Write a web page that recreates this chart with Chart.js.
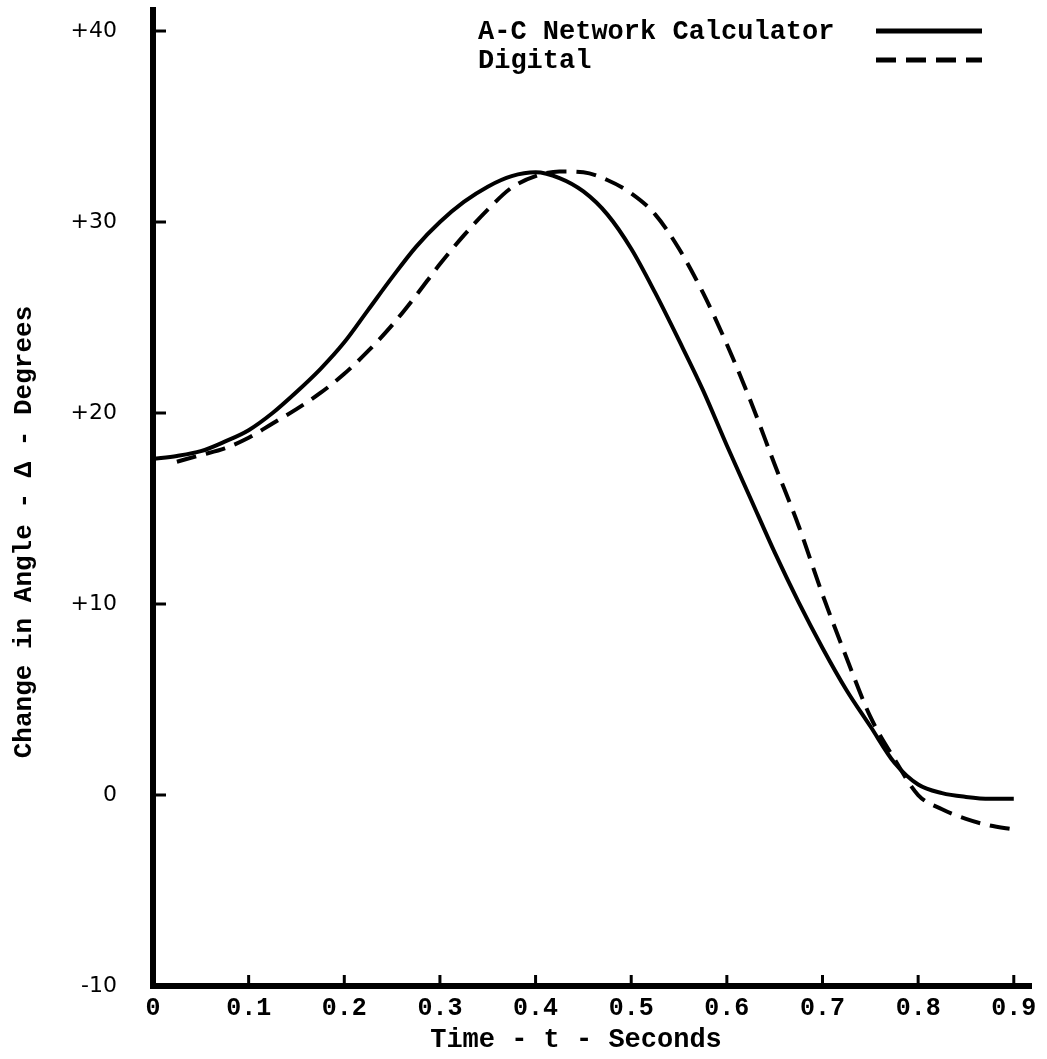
<!DOCTYPE html>
<html lang="en">
<head>
<meta charset="UTF-8">
<title>Change in Angle vs Time</title>
<script src="https://cdn.jsdelivr.net/npm/chart.js@4.4.0/dist/chart.umd.min.js"></script>
<style>
  html, body { margin: 0; padding: 0; background: #fff; }
  #wrap { width: 1047px; height: 1059px; position: relative; }
</style>
</head>
<body>
<div id="wrap"><canvas id="angleChart"></canvas></div>
<script>
// --- data (time in seconds, angle in degrees) ---
const timeValues = [0, 0.025, 0.05, 0.075, 0.1, 0.125, 0.15, 0.175, 0.2, 0.225, 0.25, 0.275,
    0.3, 0.325, 0.35, 0.375, 0.4, 0.425, 0.45, 0.475, 0.5, 0.525, 0.55, 0.575,
    0.6, 0.625, 0.65, 0.675, 0.7, 0.725, 0.75, 0.775, 0.8, 0.825, 0.85, 0.875, 0.9];

const acNetwork = [17.6, 17.75, 18.0, 18.5, 19.1, 20.0, 21.1, 22.3, 23.7, 25.4, 27.1, 28.7,
    30.0, 31.05, 31.85, 32.4, 32.6, 32.3, 31.6, 30.4, 28.6, 26.3, 23.8, 21.2,
    18.3, 15.5, 12.7, 10.1, 7.7, 5.5, 3.6, 1.7, 0.55, 0.1, -0.1, -0.2, -0.2];

const digital = [null, 17.45, 17.8, 18.15, 18.7, 19.45, 20.2, 21.05, 22.05, 23.25, 24.6, 26.15,
    27.8, 29.3, 30.65, 31.8, 32.4, 32.65, 32.6, 32.2, 31.5, 30.4, 28.6, 26.3,
    23.6, 20.6, 17.3, 14.1, 10.5, 7.2, 4.1, 1.9, 0.0, -0.75, -1.25, -1.6, -1.8];

const seriesLabels = ['A-C Network Calculator', 'Digital'];
const xTickValues = [0, 0.1, 0.2, 0.3, 0.4, 0.5, 0.6, 0.7, 0.8, 0.9];
const xTickLabels = ['0', '0.1', '0.2', '0.3', '0.4', '0.5', '0.6', '0.7', '0.8', '0.9'];
const yTickValues = [-10, 0, 10, 20, 30, 40];
const yTickLabels = ['-10', '0', '+10', '+20', '+30', '+40'];
const xTitle = 'Time - t - Seconds';
const yTitle = 'Change in Angle - Δ - Degrees';

const TYPE_FONT = "'Liberation Mono', 'DejaVu Sans Mono', monospace";

const toPoints = (values) => timeValues.map((t, i) => ({ x: t, y: values[i] }));

// short tick marks pointing into the plot, like the original drawing
const inwardTicks = {
    id: 'inwardTicks',
    afterDraw(chart) {
        const { ctx, scales: { x, y } } = chart;
        ctx.save();
        ctx.strokeStyle = '#000';
        ctx.lineWidth = 3;
        xTickValues.forEach(v => {
            if (v === 0) return;
            const px = x.getPixelForValue(v);
            ctx.beginPath();
            ctx.moveTo(px, y.bottom);
            ctx.lineTo(px, y.bottom - 11);
            ctx.stroke();
        });
        yTickValues.forEach(v => {
            if (v === -10) return;
            const py = y.getPixelForValue(v);
            ctx.beginPath();
            ctx.moveTo(x.left, py);
            ctx.lineTo(x.left + 13, py);
            ctx.stroke();
        });
        ctx.restore();
    }
};

// axis titles, placed a little off-centre as in the typed original
const axisTitles = {
    id: 'axisTitles',
    afterDraw(chart) {
        const { ctx } = chart;
        ctx.save();
        ctx.font = `bold 27px ${TYPE_FONT}`;
        ctx.fillStyle = '#000';
        ctx.textAlign = 'center';
        ctx.textBaseline = 'middle';
        ctx.fillText(xTitle, 576, 1040);
        ctx.translate(24, 532);
        ctx.rotate(-Math.PI / 2);
        ctx.font = `bold 26px ${TYPE_FONT}`;
        ctx.fillText(yTitle, 0, 0);
        ctx.restore();
    }
};

// legend: label text on the left, line sample on the right
const typedLegend = {
    id: 'typedLegend',
    afterDraw(chart) {
        const { ctx } = chart;
        const textX = 478, lineX1 = 876, lineX2 = 982;
        const rows = [31, 60];
        ctx.save();
        ctx.font = `bold 27px ${TYPE_FONT}`;
        ctx.fillStyle = '#000';
        ctx.textBaseline = 'middle';
        chart.data.datasets.forEach((ds, i) => {
            const yy = rows[i];
            ctx.fillText(ds.label, textX, yy + 1);
            ctx.beginPath();
            ctx.setLineDash(ds.borderDash || []);
            ctx.lineWidth = 5;
            ctx.strokeStyle = '#000';
            ctx.moveTo(lineX1, yy);
            ctx.lineTo(lineX2, yy);
            ctx.stroke();
        });
        ctx.restore();
    }
};

document.addEventListener('DOMContentLoaded', () => {
    const ctx = document.getElementById('angleChart').getContext('2d');
    new Chart(ctx, {
        type: 'line',
        data: {
            datasets: [{
                label: seriesLabels[0],
                data: toPoints(acNetwork),
                borderColor: '#000',
                borderWidth: 4,
                pointRadius: 0,
                cubicInterpolationMode: 'monotone',
                fill: false
            }, {
                label: seriesLabels[1],
                data: toPoints(digital),
                borderColor: '#000',
                borderWidth: 4,
                borderDash: [20, 10],
                pointRadius: 0,
                cubicInterpolationMode: 'monotone',
                fill: false
            }]
        },
        options: {
            responsive: true,
            maintainAspectRatio: false,
            animation: false,
            layout: { padding: { top: 10, right: 16, left: 0, bottom: 0 } },
            plugins: {
                legend: { display: false },
                tooltip: { enabled: false }
            },
            scales: {
                x: {
                    type: 'linear',
                    min: 0,
                    max: 0.918,
                    afterBuildTicks: (scale) => { scale.ticks = xTickValues.map(v => ({ value: v })); },
                    afterFit: (scale) => {
                        scale.height = 73;
                        scale.paddingLeft = 0;
                        scale.paddingRight = 0;
                    },
                    grid: { display: false, drawTicks: false },
                    border: { display: true, color: '#000', width: 6 },
                    ticks: {
                        color: '#000',
                        padding: 8,
                        maxRotation: 0,
                        font: { family: TYPE_FONT, size: 25, weight: 'bold' },
                        callback: (value) => xTickLabels[xTickValues.indexOf(Math.round(value * 10) / 10)]
                    }
                },
                y: {
                    min: -10,
                    max: 41.1,
                    afterBuildTicks: (scale) => { scale.ticks = yTickValues.map(v => ({ value: v })); },
                    afterFit: (scale) => {
                        scale.width = 153;
                        scale.paddingTop = 0;
                        scale.paddingBottom = 0;
                    },
                    grid: { display: false, drawTicks: false },
                    border: { display: true, color: '#000', width: 6 },
                    ticks: {
                        color: '#000',
                        padding: 36,
                        font: { family: "'DejaVu Sans', sans-serif", size: 22 },
                        callback: (value) => yTickLabels[yTickValues.indexOf(value)]
                    }
                }
            }
        },
        plugins: [inwardTicks, axisTitles, typedLegend]
    });
});
</script>
</body>
</html>
